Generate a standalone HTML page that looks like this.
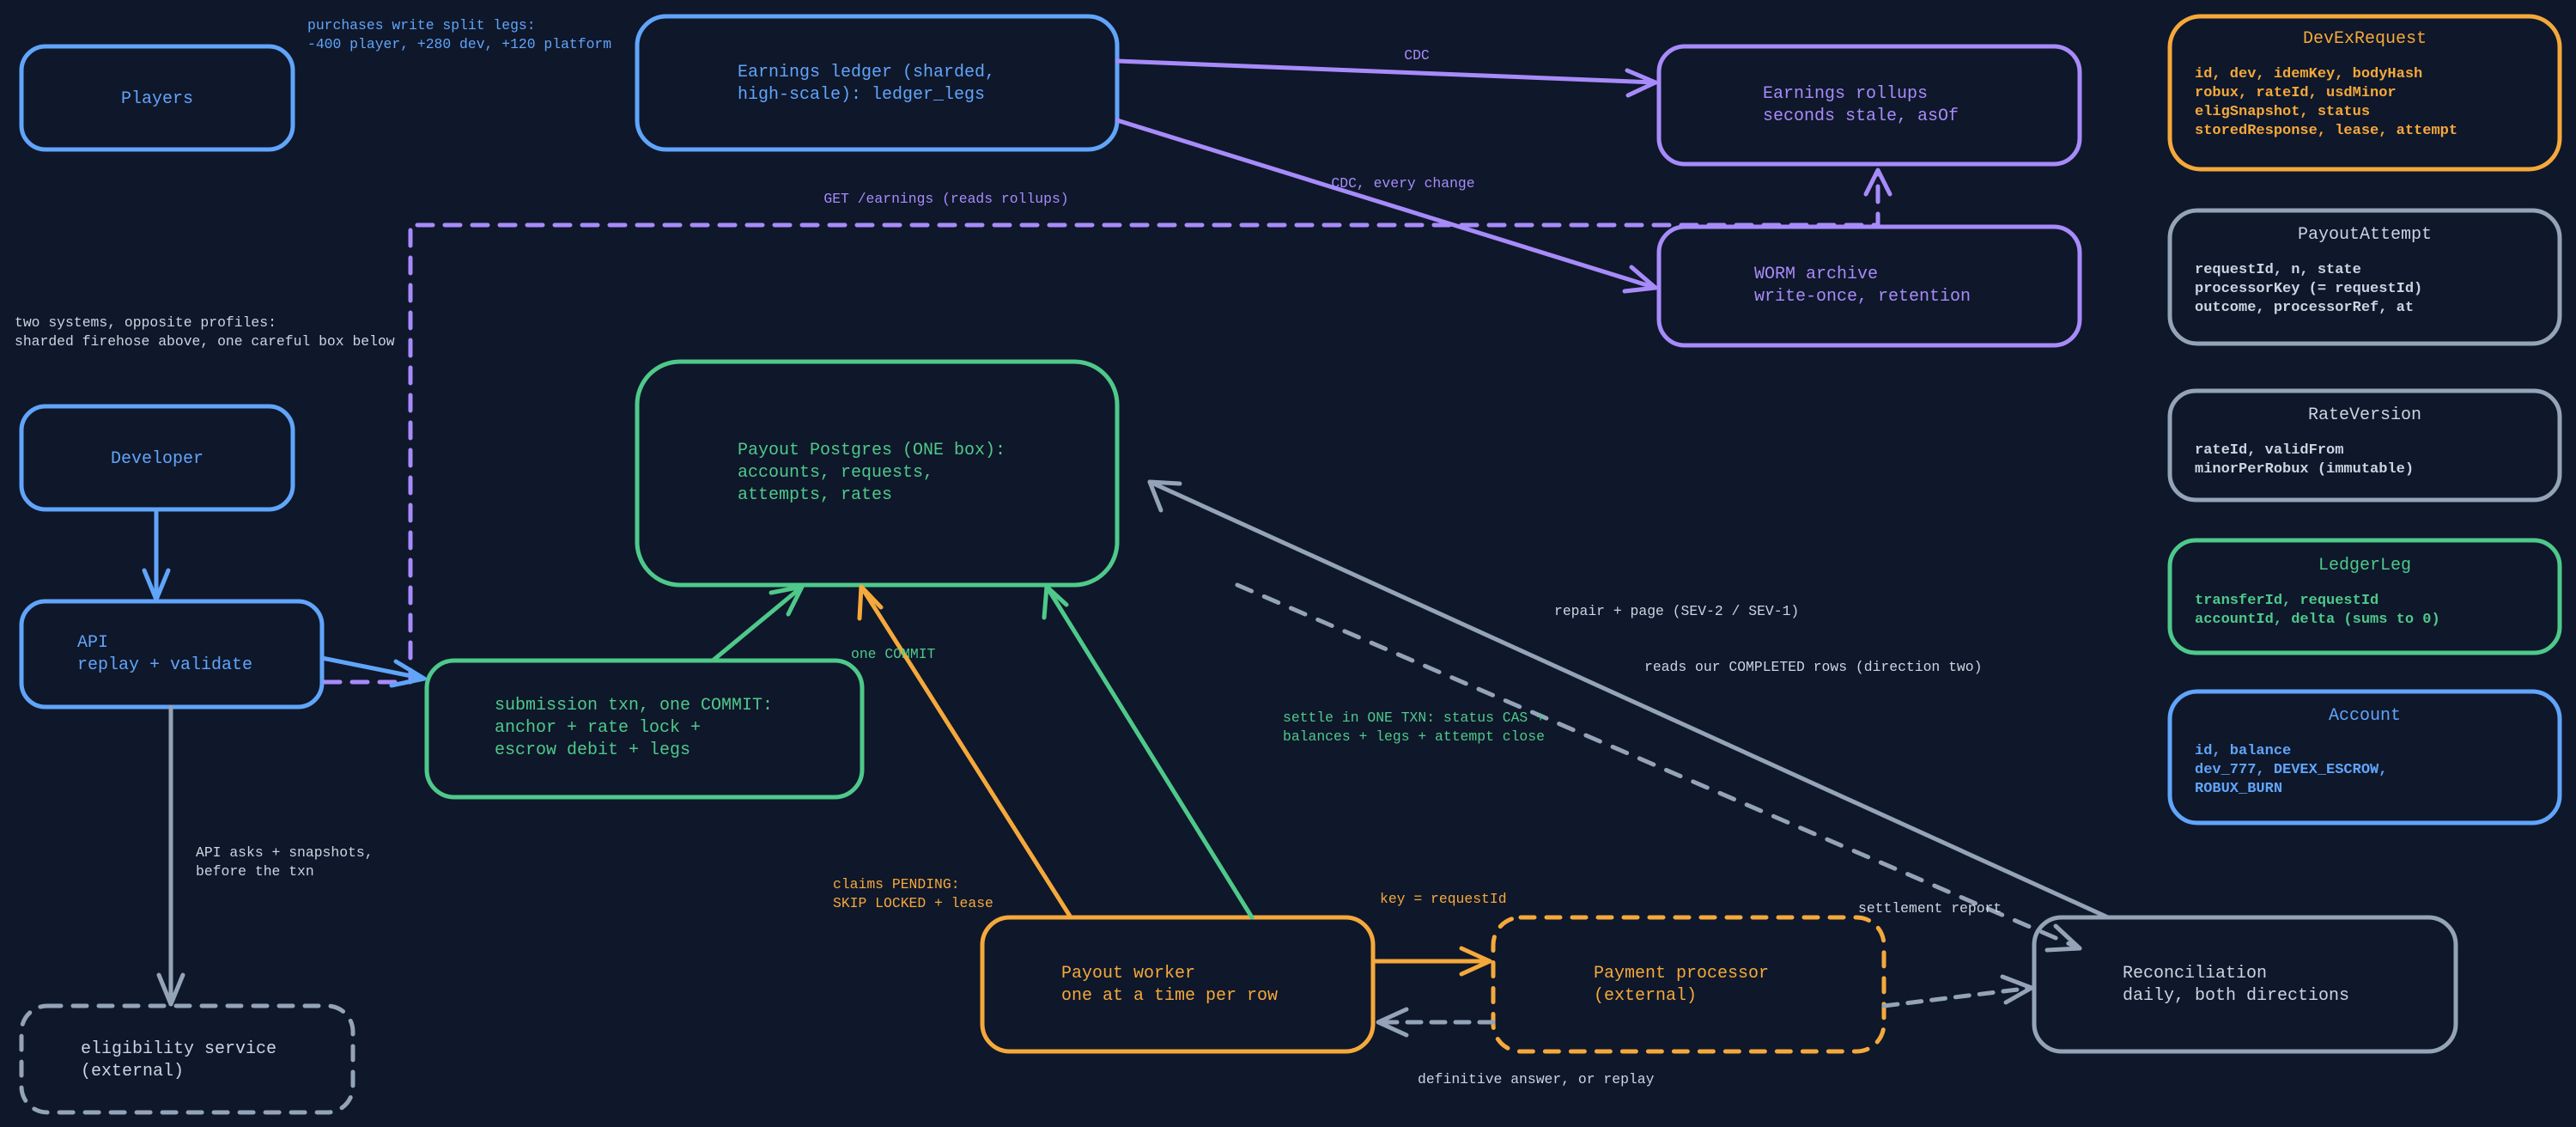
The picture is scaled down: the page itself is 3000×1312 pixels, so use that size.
<!DOCTYPE html>
<html><head><meta charset="utf-8"><style>
html,body{margin:0;padding:0;background:#0f172a;}
svg{display:block;}
text{font-family:"Liberation Mono","DejaVu Sans Mono",monospace;}
.n{font-size:20px;}
.l{font-size:16.4px;}
.f{font-size:17px;font-weight:bold;}
.t{font-size:20px;}
</style></head><body>
<svg width="3000" height="1312" viewBox="0 0 3000 1312" xmlns="http://www.w3.org/2000/svg">
<rect width="3000" height="1312" fill="#0f172a"/>
<g fill="none" stroke-width="5" stroke-linecap="round" stroke-linejoin="round">
<rect x="25" y="54" width="316" height="120" rx="28" stroke="#60a5fa"/>
<rect x="742" y="19" width="559" height="155" rx="34" stroke="#60a5fa"/>
<rect x="1932" y="54" width="490" height="137" rx="30" stroke="#a78bfa"/>
<rect x="1932" y="264" width="490" height="138" rx="30" stroke="#a78bfa"/>
<rect x="2527" y="19" width="454" height="178" rx="36" stroke="#f5a93b"/>
<rect x="2527" y="245" width="454" height="155" rx="32" stroke="#94a3b8"/>
<rect x="2527" y="455" width="454" height="127" rx="30" stroke="#94a3b8"/>
<rect x="2527" y="629" width="454" height="131" rx="30" stroke="#4ec98a"/>
<rect x="2527" y="805" width="454" height="153" rx="32" stroke="#60a5fa"/>
<rect x="25" y="473" width="316" height="120" rx="28" stroke="#60a5fa"/>
<rect x="25" y="700" width="350" height="123" rx="28" stroke="#60a5fa"/>
<rect x="742" y="421" width="559" height="260" rx="50" stroke="#4ec98a"/>
<rect x="497" y="769" width="507" height="159" rx="32" stroke="#4ec98a"/>
<rect x="25" y="1171" width="386" height="124" rx="30" stroke="#94a3b8" stroke-dasharray="16 14"/>
<rect x="1144" y="1068" width="455" height="156" rx="32" stroke="#f5a93b"/>
<rect x="1739" y="1068" width="455" height="156" rx="32" stroke="#f5a93b" stroke-dasharray="16 14"/>
<rect x="2369" y="1068" width="491" height="156" rx="32" stroke="#94a3b8"/>
<line x1="1301" y1="71" x2="1928" y2="96" stroke="#a78bfa"/>
<polyline points="1895,82 1928,96 1896,111" stroke="#a78bfa"/>
<line x1="1301" y1="140" x2="1928" y2="335" stroke="#a78bfa"/>
<polyline points="1900,311 1928,335 1892,339" stroke="#a78bfa"/>
<polyline points="378,794 478,794 478,262 2187,262 2187,200" stroke="#a78bfa" stroke-dasharray="18 14"/>
<polyline points="2173,226 2187,198 2201,226" stroke="#a78bfa"/>
<line x1="182" y1="593" x2="182" y2="698" stroke="#60a5fa"/>
<polyline points="168,664 182,698 196,664" stroke="#60a5fa"/>
<line x1="375" y1="766" x2="494" y2="790" stroke="#60a5fa"/>
<polyline points="461,770 494,790 456,798" stroke="#60a5fa"/>
<line x1="830" y1="769" x2="934" y2="683" stroke="#4ec98a"/>
<polyline points="898,690 934,683 918,715" stroke="#4ec98a"/>
<line x1="1247" y1="1068" x2="1003" y2="683" stroke="#f5a93b"/>
<polyline points="1001,720 1003,683 1026,707" stroke="#f5a93b"/>
<line x1="1458" y1="1068" x2="1219" y2="683" stroke="#4ec98a"/>
<polyline points="1216,719 1219,683 1242,704" stroke="#4ec98a"/>
<line x1="199" y1="823" x2="199" y2="1169" stroke="#94a3b8"/>
<polyline points="185,1135 199,1169 213,1135" stroke="#94a3b8"/>
<line x1="1599" y1="1119" x2="1735" y2="1119" stroke="#f5a93b"/>
<polyline points="1702,1104 1735,1119 1702,1134" stroke="#f5a93b"/>
<line x1="1739" y1="1190" x2="1605" y2="1190" stroke="#94a3b8" stroke-dasharray="16 12"/>
<polyline points="1638,1175 1605,1190 1638,1205" stroke="#94a3b8"/>
<line x1="2194" y1="1171" x2="2366" y2="1150" stroke="#94a3b8" stroke-dasharray="16 12"/>
<polyline points="2332,1137 2366,1150 2336,1167" stroke="#94a3b8"/>
<line x1="2455" y1="1068" x2="1339" y2="561" stroke="#94a3b8"/>
<polyline points="1352,594 1339,561 1374,563" stroke="#94a3b8"/>
<line x1="1441" y1="681" x2="2422" y2="1104" stroke="#94a3b8" stroke-dasharray="18 16"/>
<polyline points="2394,1078 2422,1104 2384,1106" stroke="#94a3b8"/>
</g>
<g class="n">
<text x="183" y="120" fill="#60a5fa" text-anchor="middle">Players</text>
<text x="859" y="89" fill="#60a5fa">Earnings ledger (sharded,</text>
<text x="859" y="115" fill="#60a5fa">high-scale): ledger_legs</text>
<text x="2053" y="114" fill="#a78bfa">Earnings rollups</text>
<text x="2053" y="140" fill="#a78bfa">seconds stale, asOf</text>
<text x="2043" y="324" fill="#a78bfa">WORM archive</text>
<text x="2043" y="350" fill="#a78bfa">write-once, retention</text>
<text x="183" y="539" fill="#60a5fa" text-anchor="middle">Developer</text>
<text x="90" y="753" fill="#60a5fa">API</text>
<text x="90" y="779" fill="#60a5fa">replay + validate</text>
<text x="859" y="529" fill="#4ec98a">Payout Postgres (ONE box):</text>
<text x="859" y="555" fill="#4ec98a">accounts, requests,</text>
<text x="859" y="581" fill="#4ec98a">attempts, rates</text>
<text x="576" y="826" fill="#4ec98a">submission txn, one COMMIT:</text>
<text x="576" y="852" fill="#4ec98a">anchor + rate lock +</text>
<text x="576" y="878" fill="#4ec98a">escrow debit + legs</text>
<text x="94" y="1226" fill="#cbd5e1">eligibility service</text>
<text x="94" y="1252" fill="#cbd5e1">(external)</text>
<text x="1236" y="1138" fill="#f5a93b">Payout worker</text>
<text x="1236" y="1164" fill="#f5a93b">one at a time per row</text>
<text x="1856" y="1138" fill="#f5a93b">Payment processor</text>
<text x="1856" y="1164" fill="#f5a93b">(external)</text>
<text x="2472" y="1138" fill="#cbd5e1">Reconciliation</text>
<text x="2472" y="1164" fill="#cbd5e1">daily, both directions</text>
</g>
<g>
<text class="t" x="2754" y="50" fill="#f5a93b" text-anchor="middle">DevExRequest</text>
<g class="f" fill="#f5a93b">
<text x="2556" y="90">id, dev, idemKey, bodyHash</text>
<text x="2556" y="112">robux, rateId, usdMinor</text>
<text x="2556" y="134">eligSnapshot, status</text>
<text x="2556" y="156">storedResponse, lease, attempt</text>
</g>
<text class="t" x="2754" y="278" fill="#cbd5e1" text-anchor="middle">PayoutAttempt</text>
<g class="f" fill="#cbd5e1">
<text x="2556" y="318">requestId, n, state</text>
<text x="2556" y="340">processorKey (= requestId)</text>
<text x="2556" y="362">outcome, processorRef, at</text>
</g>
<text class="t" x="2754" y="488" fill="#cbd5e1" text-anchor="middle">RateVersion</text>
<g class="f" fill="#cbd5e1">
<text x="2556" y="528">rateId, validFrom</text>
<text x="2556" y="550">minorPerRobux (immutable)</text>
</g>
<text class="t" x="2754" y="663" fill="#4ec98a" text-anchor="middle">LedgerLeg</text>
<g class="f" fill="#4ec98a">
<text x="2556" y="703">transferId, requestId</text>
<text x="2556" y="725">accountId, delta (sums to 0)</text>
</g>
<text class="t" x="2754" y="838" fill="#60a5fa" text-anchor="middle">Account</text>
<g class="f" fill="#60a5fa">
<text x="2556" y="878">id, balance</text>
<text x="2556" y="900">dev_777, DEVEX_ESCROW,</text>
<text x="2556" y="922">ROBUX_BURN</text>
</g>
</g>
<g class="l">
<text x="358" y="34" fill="#60a5fa">purchases write split legs:</text>
<text x="358" y="56" fill="#60a5fa">-400 player, +280 dev, +120 platform</text>
<text x="17" y="380" fill="#cbd5e1">two systems, opposite profiles:</text>
<text x="17" y="402" fill="#cbd5e1">sharded firehose above, one careful box below</text>
<text x="1650" y="69" fill="#a78bfa" text-anchor="middle">CDC</text>
<text x="1634" y="218" fill="#a78bfa" text-anchor="middle">CDC, every change</text>
<text x="1102" y="236" fill="#a78bfa" text-anchor="middle">GET /earnings (reads rollups)</text>
<text x="991" y="766" fill="#4ec98a">one COMMIT</text>
<text x="970" y="1034" fill="#f5a93b">claims PENDING:</text>
<text x="970" y="1056" fill="#f5a93b">SKIP LOCKED + lease</text>
<text x="1494" y="840" fill="#4ec98a">settle in ONE TXN: status CAS +</text>
<text x="1494" y="862" fill="#4ec98a">balances + legs + attempt close</text>
<text x="228" y="997" fill="#cbd5e1">API asks + snapshots,</text>
<text x="228" y="1019" fill="#cbd5e1">before the txn</text>
<text x="1607" y="1051" fill="#f5a93b">key = requestId</text>
<text x="1651" y="1261" fill="#cbd5e1">definitive answer, or replay</text>
<text x="2164" y="1062" fill="#cbd5e1">settlement report</text>
<text x="1810" y="716" fill="#cbd5e1">repair + page (SEV-2 / SEV-1)</text>
<text x="1915" y="781" fill="#cbd5e1">reads our COMPLETED rows (direction two)</text>
</g>
</svg>
</body></html>
